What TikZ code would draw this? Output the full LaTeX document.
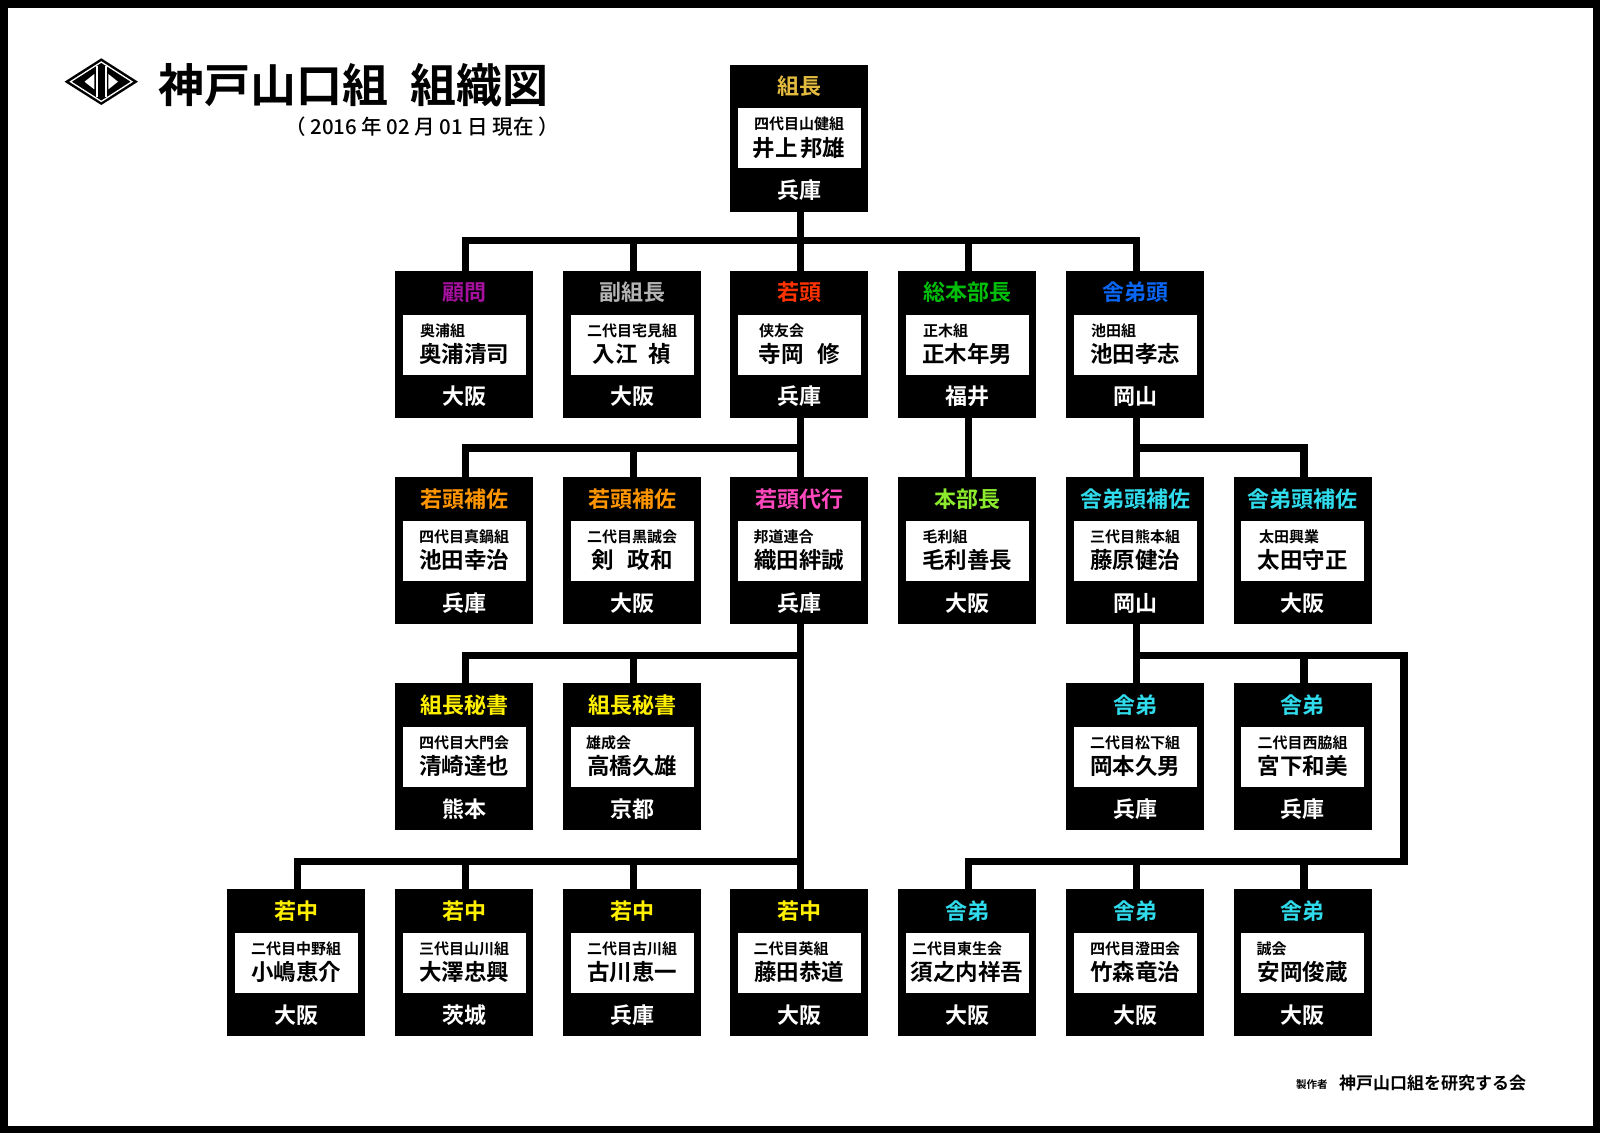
\documentclass[tikz,border=0pt]{standalone}
\usepackage{fontspec}
\setmainfont{Noto Sans CJK JP}[BoldFont={Noto Sans CJK JP Bold}]
\newfontfamily\cjkb{Noto Sans CJK JP Bold}
\newfontfamily\cjkm{Noto Sans CJK JP Medium}
\definecolor{cgold}{HTML}{E3BC3F}
\definecolor{cpurple}{HTML}{A6109E}
\definecolor{cgrey}{HTML}{B4B4B4}
\definecolor{cred}{HTML}{FF3300}
\definecolor{cgreen}{HTML}{00BE0A}
\definecolor{cblue}{HTML}{0A66F5}
\definecolor{corange}{HTML}{FF9600}
\definecolor{cpink}{HTML}{FF48BE}
\definecolor{clime}{HTML}{8CEB2D}
\definecolor{ccyan}{HTML}{30DCEC}
\definecolor{cyell}{HTML}{FFF000}
\tikzset{
  x=1pt,y=-1pt,
  t/.style={inner sep=0pt,text height=0.88*#1 pt,text depth=0.12*#1 pt,font=\cjkb\fontsize{#1}{#1}\selectfont},
  orgbox/.style={fill=black,draw=none,inner sep=0pt,minimum width=138pt,minimum height=147pt},
  whitebox/.style={fill=white,draw=none,inner sep=0pt,minimum width=123pt,minimum height=60pt},
  conn/.style={draw=black,line width=7.3pt,line cap=butt,line join=miter}
}
% #1 id, #2 x, #3 y, #4 colour, #5 role, #6 small line placement, #7 small text, #8 person, #9 city
\newcommand{\orgunit}[9]{%
  \node[orgbox] (#1) at (#2+69,#3+73.5) {};
  \node[whitebox] (#1-w) at (#2+69,#3+73.5) {};
  \node[t=22,text=#4] (#1-role) at (#2+69,#3+21.5) {#5};
  \ifx#6c\relax
    \node[t=15] (#1-small) at (#2+69,#3+59.5) {#7};
  \else
    \node[t=15,anchor=west] (#1-small) at (#2+#6,#3+59.5) {#7};
  \fi
  \node[t=22.5] (#1-name) at (#2+69,#3+83) {#8};
  \node[t=22,text=white] (#1-city) at (#2+69,#3+125.5) {#9};
  \coordinate (#1-t) at (#2+70.6,#3);
  \coordinate (#1-b) at (#2+70.6,#3+147);
}
\begin{document}
\begin{tikzpicture}
\useasboundingbox (0,0) rectangle (1600,1133);
\fill[black] (0,0) rectangle (1600,1133);
\fill[white] (8,8) rectangle (1592.5,1125.5);
% logo
\fill[black] (64.5,81.7) -- (101.3,58.3) -- (138,81.7) -- (101.3,105) -- cycle;
\draw[white,line width=1.3pt] (70.5,81.7) -- (101.3,62) -- (132,81.7) -- (101.3,101.4) -- cycle;
\fill[white] (84.5,81.7) -- (94.3,74) -- (94.3,89.4) -- cycle;
\fill[white] (118,81.7) -- (108.3,74) -- (108.3,89.4) -- cycle;
\fill[white] (95.5,66) rectangle (97.5,97);
\fill[white] (105,66) rectangle (107,97);
% title
\node[t=46,anchor=west] (title1) at (158,85) {神戸山口組};
\node[t=46,anchor=west] (title2) at (410,85) {組織図};
\node[inner sep=0pt,anchor=west,text height=18pt,text depth=2.5pt,font=\cjkm\fontsize{20.5}{20.5}\selectfont] (date) at (285,127) {（ 2016 年 02 月 01 日 現在 ）};
% footer
\node[t=10.5,anchor=west] (maker) at (1296,1084) {製作者};
\node[t=17,anchor=west] (group) at (1339,1083) {神戸山口組を研究する会};
% boxes
\orgunit{root}{730}{64.5}{cgold}{組長}{c}{四代目山健組}{井上\hspace{.1em}邦雄}{兵庫}
\orgunit{bA}{395}{271}{cpurple}{顧問}{25}{奥浦組}{奥浦清司}{大阪}
\orgunit{bB}{563}{271}{cgrey}{副組長}{c}{二代目宅見組}{入江\hspace{.5em}禎}{大阪}
\orgunit{bC}{730}{271}{cred}{若頭}{29}{侠友会}{寺岡\hspace{.6em}修}{兵庫}
\orgunit{bD}{898}{271}{cgreen}{総本部長}{25}{正木組}{正木年男}{福井}
\orgunit{bE}{1066}{271}{cblue}{舎弟頭}{25}{池田組}{池田孝志}{岡山}
\orgunit{cA}{395}{477.3}{corange}{若頭補佐}{c}{四代目真鍋組}{池田幸治}{兵庫}
\orgunit{cB}{563}{477.3}{corange}{若頭補佐}{c}{二代目黒誠会}{剣\hspace{.6em}政和}{大阪}
\orgunit{cC}{730}{477.3}{cpink}{若頭代行}{23.4}{邦道連合}{織田絆誠}{兵庫}
\orgunit{cD}{898}{477.3}{clime}{本部長}{24.5}{毛利組}{毛利善長}{大阪}
\orgunit{cE}{1066}{477.3}{ccyan}{舎弟頭補佐}{c}{三代目熊本組}{藤原健治}{岡山}
\orgunit{cF}{1233.5}{477.3}{ccyan}{舎弟頭補佐}{25.5}{太田興業}{太田守正}{大阪}
\orgunit{dA}{395}{683.3}{cyell}{組長秘書}{c}{四代目大門会}{清崎達也}{熊本}
\orgunit{dB}{563}{683.3}{cyell}{組長秘書}{23}{雄成会}{高橋久雄}{京都}
\orgunit{dC}{1066}{683.3}{ccyan}{舎弟}{c}{二代目松下組}{岡本久男}{兵庫}
\orgunit{dD}{1233.5}{683.3}{ccyan}{舎弟}{c}{二代目西脇組}{宮下和美}{兵庫}
\orgunit{eA}{227}{889.3}{cyell}{若中}{c}{二代目中野組}{小嶋恵介}{大阪}
\orgunit{eB}{395}{889.3}{cyell}{若中}{c}{三代目山川組}{大澤忠興}{茨城}
\orgunit{eC}{563}{889.3}{cyell}{若中}{c}{二代目古川組}{古川恵一}{兵庫}
\orgunit{eD}{730}{889.3}{cyell}{若中}{23.4}{二代目英組}{藤田恭道}{大阪}
\orgunit{eE}{898}{889.3}{ccyan}{舎弟}{14}{二代目東生会}{須之内祥吾}{大阪}
\orgunit{eF}{1066}{889.3}{ccyan}{舎弟}{c}{四代目澄田会}{竹森竜治}{大阪}
\orgunit{eG}{1233.5}{889.3}{ccyan}{舎弟}{23}{誠会}{安岡俊蔵}{大阪}
% buses
\coordinate (bus1) at (0,240.7);
\coordinate (bus2) at (0,448);
\coordinate (bus3) at (0,655.3);
\coordinate (bus4) at (0,861.3);
\coordinate (rail) at (1404,0);
% connectors
\draw[conn] (root-b) -- (bC-t);
\draw[conn] (bA-t) -- (bA-t |- bus1) -- (bE-t |- bus1) -- (bE-t);
\draw[conn] (bB-t) -- (bB-t |- bus1);
\draw[conn] (bD-t) -- (bD-t |- bus1);
\draw[conn] (bC-b) -- (cC-t);
\draw[conn] (cA-t) -- (cA-t |- bus2) -- (cC-t |- bus2);
\draw[conn] (cB-t) -- (cB-t |- bus2);
\draw[conn] (bD-b) -- (cD-t);
\draw[conn] (bE-b) -- (cE-t);
\draw[conn] (bE-b |- bus2) -- (cF-t |- bus2) -- (cF-t);
\draw[conn] (cC-b) -- (eD-t);
\draw[conn] (dA-t) -- (dA-t |- bus3) -- (cC-b |- bus3);
\draw[conn] (dB-t) -- (dB-t |- bus3);
\draw[conn] (eA-t) -- (eA-t |- bus4) -- (eD-t |- bus4);
\draw[conn] (eB-t) -- (eB-t |- bus4);
\draw[conn] (eC-t) -- (eC-t |- bus4);
\draw[conn] (cE-b) -- (dC-t);
\draw[conn] (dC-t |- bus3) -- (rail |- bus3) -- (rail |- bus4) -- (eE-t |- bus4) -- (eE-t);
\draw[conn] (dD-t) -- (dD-t |- bus3);
\draw[conn] (eF-t) -- (eF-t |- bus4);
\draw[conn] (eG-t) -- (eG-t |- bus4);
\end{tikzpicture}
\end{document}
